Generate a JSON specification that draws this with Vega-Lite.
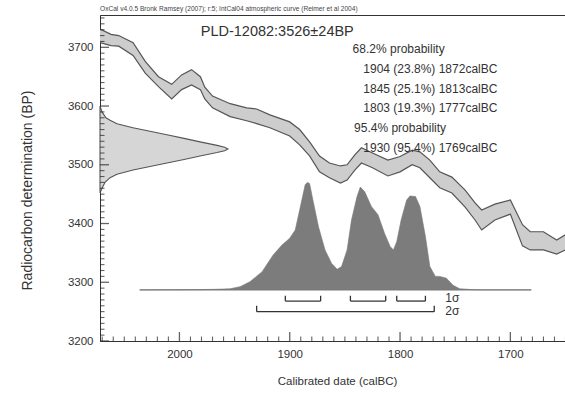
{
  "$schema": "https://vega.github.io/schema/vega-lite/v6.json",
  "autosize": "none",
  "width": 474,
  "height": 326,
  "padding": {"left": 100, "top": 15, "right": 0, "bottom": 53},
  "background": "white",
  "title": {
    "text": "OxCal v4.0.5 Bronk Ramsey (2007); r:5; IntCal04 atmospheric curve (Reimer et al 2004)",
    "anchor": "start",
    "frame": "group",
    "offset": 2,
    "fontSize": 6.6,
    "fontWeight": "normal",
    "font": "Liberation Sans",
    "color": "#444"
  },
  "config": {
    "font": "Liberation Sans",
    "view": {"stroke": "#333", "strokeWidth": 1},
    "axis": {"grid": false, "ticks": false, "domainColor": "#333", "labelColor": "#333", "titleColor": "#333", "labelFontSize": 11.5, "titleFontSize": 11.5, "titleFontWeight": "normal", "labelFont": "Liberation Sans", "titleFont": "Liberation Sans"}
  },
  "datasets": {
    "band": [
      {"year": 2072, "hi": 3731, "lo": 3708},
      {"year": 2062, "hi": 3722, "lo": 3703},
      {"year": 2055, "hi": 3720, "lo": 3702},
      {"year": 2042, "hi": 3708, "lo": 3686},
      {"year": 2031, "hi": 3676, "lo": 3656},
      {"year": 2019, "hi": 3650, "lo": 3633},
      {"year": 2007, "hi": 3637, "lo": 3612},
      {"year": 1998, "hi": 3653, "lo": 3628},
      {"year": 1989, "hi": 3662, "lo": 3636},
      {"year": 1981, "hi": 3650, "lo": 3628},
      {"year": 1977, "hi": 3632, "lo": 3612},
      {"year": 1970, "hi": 3617, "lo": 3597},
      {"year": 1954, "hi": 3604, "lo": 3582},
      {"year": 1939, "hi": 3597, "lo": 3575},
      {"year": 1930, "hi": 3595, "lo": 3570},
      {"year": 1918, "hi": 3585, "lo": 3563},
      {"year": 1900, "hi": 3573, "lo": 3549},
      {"year": 1891, "hi": 3560, "lo": 3534},
      {"year": 1882, "hi": 3539, "lo": 3515},
      {"year": 1873, "hi": 3515, "lo": 3488},
      {"year": 1864, "hi": 3503, "lo": 3478},
      {"year": 1854, "hi": 3498, "lo": 3469},
      {"year": 1848, "hi": 3500, "lo": 3474},
      {"year": 1841, "hi": 3517, "lo": 3491},
      {"year": 1835, "hi": 3529, "lo": 3503},
      {"year": 1825, "hi": 3520, "lo": 3495},
      {"year": 1811, "hi": 3508, "lo": 3481},
      {"year": 1800, "hi": 3514, "lo": 3488},
      {"year": 1789, "hi": 3525, "lo": 3500},
      {"year": 1782, "hi": 3522, "lo": 3495},
      {"year": 1773, "hi": 3508, "lo": 3478},
      {"year": 1764, "hi": 3488, "lo": 3461},
      {"year": 1753, "hi": 3479, "lo": 3452},
      {"year": 1741, "hi": 3457, "lo": 3428},
      {"year": 1732, "hi": 3435, "lo": 3406},
      {"year": 1726, "hi": 3423, "lo": 3389},
      {"year": 1714, "hi": 3433, "lo": 3406},
      {"year": 1700, "hi": 3440, "lo": 3416},
      {"year": 1689, "hi": 3398, "lo": 3362},
      {"year": 1682, "hi": 3386, "lo": 3355},
      {"year": 1670, "hi": 3386, "lo": 3355},
      {"year": 1658, "hi": 3372, "lo": 3348},
      {"year": 1650, "hi": 3381, "lo": 3355},
      {"year": 1642, "hi": 3384, "lo": 3358}
    ],
    "measured": [
      {"bp": 3600, "year": 2072},
      {"bp": 3590, "year": 2070.2},
      {"bp": 3580, "year": 2066.6},
      {"bp": 3576, "year": 2062.9},
      {"bp": 3570, "year": 2056.6},
      {"bp": 3563, "year": 2042.1},
      {"bp": 3557, "year": 2026.7},
      {"bp": 3551, "year": 2011.3},
      {"bp": 3545, "year": 1995.8},
      {"bp": 3539, "year": 1981.3},
      {"bp": 3533, "year": 1965.9},
      {"bp": 3530, "year": 1959},
      {"bp": 3527, "year": 1956},
      {"bp": 3524, "year": 1959},
      {"bp": 3521, "year": 1965.9},
      {"bp": 3515, "year": 1981.3},
      {"bp": 3509, "year": 1995.8},
      {"bp": 3503, "year": 2011.3},
      {"bp": 3497, "year": 2026.7},
      {"bp": 3491, "year": 2042.1},
      {"bp": 3484, "year": 2056.6},
      {"bp": 3478, "year": 2062.9},
      {"bp": 3470, "year": 2067.5},
      {"bp": 3460, "year": 2070.2},
      {"bp": 3452, "year": 2072}
    ],
    "calibrated": [
      {"year": 2036, "p": 3287},
      {"year": 1981, "p": 3287.5},
      {"year": 1968, "p": 3288},
      {"year": 1960, "p": 3288.5},
      {"year": 1954, "p": 3289},
      {"year": 1945, "p": 3292.5},
      {"year": 1936, "p": 3301},
      {"year": 1925, "p": 3318},
      {"year": 1921, "p": 3329.5},
      {"year": 1915, "p": 3346.5},
      {"year": 1907, "p": 3363.5},
      {"year": 1900, "p": 3375},
      {"year": 1895, "p": 3389},
      {"year": 1891, "p": 3423},
      {"year": 1886, "p": 3466},
      {"year": 1884, "p": 3470},
      {"year": 1882, "p": 3468},
      {"year": 1879, "p": 3440},
      {"year": 1874, "p": 3395},
      {"year": 1868, "p": 3355},
      {"year": 1862, "p": 3332},
      {"year": 1857, "p": 3322},
      {"year": 1853, "p": 3327},
      {"year": 1848, "p": 3355},
      {"year": 1844, "p": 3406},
      {"year": 1839, "p": 3446},
      {"year": 1836, "p": 3462},
      {"year": 1832, "p": 3454},
      {"year": 1826, "p": 3429},
      {"year": 1820, "p": 3415},
      {"year": 1814, "p": 3383},
      {"year": 1809, "p": 3361},
      {"year": 1806, "p": 3355},
      {"year": 1803, "p": 3369},
      {"year": 1799, "p": 3406},
      {"year": 1794, "p": 3440},
      {"year": 1791, "p": 3447},
      {"year": 1786, "p": 3446},
      {"year": 1782, "p": 3429},
      {"year": 1777, "p": 3378},
      {"year": 1773, "p": 3327},
      {"year": 1768, "p": 3310},
      {"year": 1764, "p": 3310},
      {"year": 1758, "p": 3307},
      {"year": 1752, "p": 3295},
      {"year": 1746, "p": 3289},
      {"year": 1735, "p": 3287.5},
      {"year": 1727, "p": 3287},
      {"year": 1681, "p": 3287}
    ],
    "ranges": [
      {"level": "1σ", "from": 1904, "to": 1872, "bp": 3268, "tickTop": 3277},
      {"level": "1σ", "from": 1845, "to": 1813, "bp": 3268, "tickTop": 3277},
      {"level": "1σ", "from": 1803, "to": 1777, "bp": 3268, "tickTop": 3277},
      {"level": "2σ", "from": 1930, "to": 1769, "bp": 3250, "tickTop": 3260}
    ],
    "sigmaLabels": [
      {"label": "1σ", "year": 1759, "bp": 3273},
      {"label": "2σ", "year": 1759, "bp": 3251}
    ],
    "notes": [
      {"label": "68.2% probability", "year": 1843, "bp": 3690.6},
      {"label": "1904 (23.8%) 1872calBC", "year": 1833.3, "bp": 3656.6},
      {"label": "1845 (25.1%) 1813calBC", "year": 1833.3, "bp": 3623},
      {"label": "1803 (19.3%) 1777calBC", "year": 1833.3, "bp": 3589.6},
      {"label": "95.4% probability", "year": 1841.7, "bp": 3556.6},
      {"label": "1930 (95.4%) 1769calBC", "year": 1833.3, "bp": 3522.5}
    ],
    "sample": [
      {"label": "PLD-12082:3526±24BP", "year": 1980.7, "bp": 3719.6}
    ],
    "yearMajor": [{"year": 2000}, {"year": 1900}, {"year": 1800}, {"year": 1700}],
    "yearMinor": [
      {"year": 1650}, {"year": 1660}, {"year": 1670}, {"year": 1680}, {"year": 1690},
      {"year": 1710}, {"year": 1720}, {"year": 1730}, {"year": 1740}, {"year": 1750},
      {"year": 1760}, {"year": 1770}, {"year": 1780}, {"year": 1790},
      {"year": 1810}, {"year": 1820}, {"year": 1830}, {"year": 1840}, {"year": 1850},
      {"year": 1860}, {"year": 1870}, {"year": 1880}, {"year": 1890},
      {"year": 1910}, {"year": 1920}, {"year": 1930}, {"year": 1940}, {"year": 1950},
      {"year": 1960}, {"year": 1970}, {"year": 1980}, {"year": 1990},
      {"year": 2010}, {"year": 2020}, {"year": 2030}, {"year": 2040}, {"year": 2050},
      {"year": 2060}, {"year": 2070}
    ],
    "bpMajor": [{"bp": 3200}, {"bp": 3300}, {"bp": 3400}, {"bp": 3500}, {"bp": 3600}, {"bp": 3700}],
    "bpMinor": [
      {"bp": 3210}, {"bp": 3220}, {"bp": 3230}, {"bp": 3240}, {"bp": 3250}, {"bp": 3260}, {"bp": 3270}, {"bp": 3280}, {"bp": 3290},
      {"bp": 3310}, {"bp": 3320}, {"bp": 3330}, {"bp": 3340}, {"bp": 3350}, {"bp": 3360}, {"bp": 3370}, {"bp": 3380}, {"bp": 3390},
      {"bp": 3410}, {"bp": 3420}, {"bp": 3430}, {"bp": 3440}, {"bp": 3450}, {"bp": 3460}, {"bp": 3470}, {"bp": 3480}, {"bp": 3490},
      {"bp": 3510}, {"bp": 3520}, {"bp": 3530}, {"bp": 3540}, {"bp": 3550}, {"bp": 3560}, {"bp": 3570}, {"bp": 3580}, {"bp": 3590},
      {"bp": 3610}, {"bp": 3620}, {"bp": 3630}, {"bp": 3640}, {"bp": 3650}, {"bp": 3660}, {"bp": 3670}, {"bp": 3680}, {"bp": 3690},
      {"bp": 3710}, {"bp": 3720}, {"bp": 3730}, {"bp": 3740}, {"bp": 3750}
    ]
  },
  "layer": [
    {
      "data": {"name": "band"},
      "mark": {"type": "area", "fill": "#cdcdcd", "clip": true},
      "encoding": {
        "x": {
          "field": "year", "type": "quantitative",
          "scale": {"domain": [1642.3, 2072], "reverse": true, "nice": false, "zero": false},
          "axis": {"values": [2000, 1900, 1800, 1700], "format": "d", "labelPadding": 7, "title": "Calibrated date (calBC)", "titlePadding": 16}
        },
        "y": {
          "field": "hi", "type": "quantitative",
          "scale": {"domain": [3200, 3755], "nice": false, "zero": false},
          "axis": {"values": [3200, 3300, 3400, 3500, 3600, 3700], "format": "d", "labelPadding": 7, "title": "Radiocarbon determination (BP)", "titleFontSize": 14, "titleY": 175, "titlePadding": 33}
        },
        "y2": {"field": "lo"}
      }
    },
    {
      "data": {"name": "band"},
      "mark": {"type": "line", "stroke": "#555", "strokeWidth": 1.2, "clip": true},
      "encoding": {
        "x": {"field": "year", "type": "quantitative"},
        "y": {"field": "hi", "type": "quantitative"}
      }
    },
    {
      "data": {"name": "band"},
      "mark": {"type": "line", "stroke": "#555", "strokeWidth": 1.2, "clip": true},
      "encoding": {
        "x": {"field": "year", "type": "quantitative"},
        "y": {"field": "lo", "type": "quantitative"}
      }
    },
    {
      "data": {"name": "measured"},
      "mark": {"type": "area", "orient": "horizontal", "fill": "#d6d6d6", "stroke": "#555", "strokeWidth": 1.1},
      "encoding": {
        "y": {"field": "bp", "type": "quantitative"},
        "x": {"field": "year", "type": "quantitative"},
        "x2": {"datum": 2072}
      }
    },
    {
      "data": {"name": "calibrated"},
      "mark": {"type": "rule", "stroke": "#888", "strokeWidth": 1},
      "encoding": {
        "x": {"aggregate": "max", "field": "year", "type": "quantitative"},
        "x2": {"aggregate": "min", "field": "year"},
        "y": {"aggregate": "min", "field": "p", "type": "quantitative"}
      }
    },
    {
      "data": {"name": "calibrated"},
      "mark": {"type": "area", "fill": "#7c7c7c", "stroke": "#777", "strokeWidth": 0.6},
      "encoding": {
        "x": {"field": "year", "type": "quantitative"},
        "y": {"field": "p", "type": "quantitative"},
        "y2": {"datum": 3287}
      }
    },
    {
      "data": {"name": "ranges"},
      "mark": {"type": "rule", "stroke": "#333", "strokeWidth": 1.3},
      "encoding": {
        "x": {"field": "from", "type": "quantitative"},
        "x2": {"field": "to"},
        "y": {"field": "bp", "type": "quantitative"}
      }
    },
    {
      "data": {"name": "ranges"},
      "mark": {"type": "rule", "stroke": "#333", "strokeWidth": 1.3},
      "encoding": {
        "x": {"field": "from", "type": "quantitative"},
        "y": {"field": "bp", "type": "quantitative"},
        "y2": {"field": "tickTop"}
      }
    },
    {
      "data": {"name": "ranges"},
      "mark": {"type": "rule", "stroke": "#333", "strokeWidth": 1.3},
      "encoding": {
        "x": {"field": "to", "type": "quantitative"},
        "y": {"field": "bp", "type": "quantitative"},
        "y2": {"field": "tickTop"}
      }
    },
    {
      "data": {"name": "sigmaLabels"},
      "mark": {"type": "text", "align": "left", "baseline": "middle", "fontSize": 12, "color": "#333"},
      "encoding": {
        "x": {"field": "year", "type": "quantitative"},
        "y": {"field": "bp", "type": "quantitative"},
        "text": {"field": "label"}
      }
    },
    {
      "data": {"name": "notes"},
      "mark": {"type": "text", "align": "left", "baseline": "alphabetic", "fontSize": 12, "color": "#333"},
      "encoding": {
        "x": {"field": "year", "type": "quantitative"},
        "y": {"field": "bp", "type": "quantitative"},
        "text": {"field": "label"}
      }
    },
    {
      "data": {"name": "sample"},
      "mark": {"type": "text", "align": "left", "baseline": "alphabetic", "fontSize": 14.5, "color": "#333"},
      "encoding": {
        "x": {"field": "year", "type": "quantitative"},
        "y": {"field": "bp", "type": "quantitative"},
        "text": {"field": "label"}
      }
    },
    {
      "data": {"name": "yearMajor"},
      "mark": {"type": "tick", "orient": "vertical", "color": "#222", "size": 18, "thickness": 1.3, "clip": true},
      "encoding": {
        "x": {"field": "year", "type": "quantitative"},
        "y": {"datum": 3200}
      }
    },
    {
      "data": {"name": "yearMinor"},
      "mark": {"type": "tick", "orient": "vertical", "color": "#222", "size": 9, "thickness": 1.1, "clip": true},
      "encoding": {
        "x": {"field": "year", "type": "quantitative"},
        "y": {"datum": 3200}
      }
    },
    {
      "data": {"name": "bpMajor"},
      "mark": {"type": "tick", "orient": "horizontal", "color": "#222", "size": 18, "thickness": 1.3, "clip": true},
      "encoding": {
        "y": {"field": "bp", "type": "quantitative"},
        "x": {"datum": 2072}
      }
    },
    {
      "data": {"name": "bpMinor"},
      "mark": {"type": "tick", "orient": "horizontal", "color": "#222", "size": 9, "thickness": 1.1, "clip": true},
      "encoding": {
        "y": {"field": "bp", "type": "quantitative"},
        "x": {"datum": 2072}
      }
    }
  ]
}
